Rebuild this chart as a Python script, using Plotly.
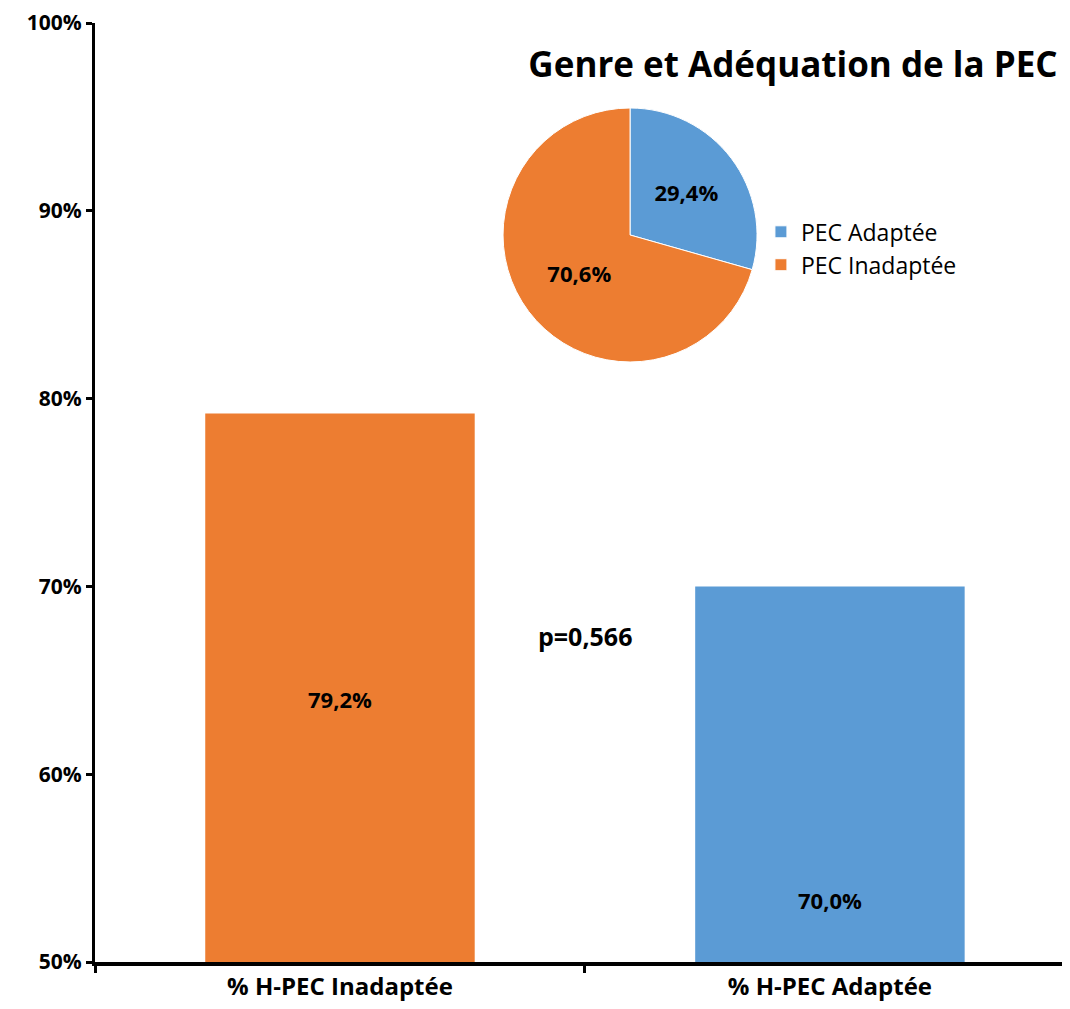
import plotly.graph_objects as go

categories = ["% H-PEC Inadaptée", "% H-PEC Adaptée"]
bar_values = [0.792, 0.700]
bar_labels = ["79,2%", "70,0%"]
bar_label_y = [0.64, 0.533]
bar_colors = ["#ED7D31", "#5B9BD5"]

pie_labels = ["PEC Adaptée", "PEC Inadaptée"]
pie_values = [29.4, 70.6]
pie_text = ["29,4%", "70,6%"]
pie_colors = ["#5B9BD5", "#ED7D31"]

y_tickvals = [0.5, 0.6, 0.7, 0.8, 0.9, 1.0]
y_ticktext = ["50%", "60%", "70%", "80%", "90%", "100%"]

title_text = "Genre et Adéquation de la PEC"
p_value_text = "p=0,566"

FONT = "Open Sans"

fig = go.Figure()

fig.add_trace(go.Bar(
    x=categories, y=bar_values, marker=dict(color=bar_colors, line=dict(width=0)),
    width=0.55, showlegend=False, hoverinfo="skip",
))

fig.add_trace(go.Pie(
    labels=pie_labels, values=pie_values, text=pie_text, textinfo="text",
    textposition="inside", insidetextorientation="horizontal",
    textfont=dict(family=FONT, size=22, color="black", weight="bold"),
    marker=dict(colors=pie_colors, line=dict(color="white", width=1)),
    sort=False, direction="clockwise", rotation=0,
    domain=dict(x=[0.4185, 0.679], y=[0.639, 0.9095]),
    showlegend=True,
))

for c, t, yy in zip(categories, bar_labels, bar_label_y):
    fig.add_annotation(x=c, y=yy, text=t, showarrow=False,
                       font=dict(family=FONT, size=22, color="black", weight="bold"))

fig.add_annotation(x=0.5, y=0.6735, xref="x", yref="y", text=p_value_text, showarrow=False,
                   font=dict(family=FONT, size=25, color="black", weight="bold"))

fig.update_layout(
    width=1062, height=1001,
    margin=dict(l=87, r=0, t=15, b=47, autoexpand=False),
    plot_bgcolor="white", paper_bgcolor="white",
    title=dict(text=title_text, x=(793-8)/1062, y=1-(65-8)/1001, xref="container", yref="container",
               xanchor="center", yanchor="middle",
               font=dict(family=FONT, size=35, color="black", weight="bold")),
    legend=dict(x=0.683, y=0.760, xanchor="left", yanchor="middle",
                font=dict(family=FONT, size=23, color="black"),
                bgcolor="rgba(0,0,0,0)", itemwidth=30),
    font=dict(family=FONT),
)

fig.update_xaxes(
    type="category", range=[-0.5, 1.49], showline=True, linecolor="black", linewidth=4,
    ticks="outside", tickson="boundaries", ticklen=7, tickwidth=3, tickcolor="black",
    showgrid=False, automargin=False,
    tickfont=dict(family=FONT, size=24, color="black", weight="bold"),
)
fig.update_yaxes(
    range=[0.5, 1.0], tickvals=y_tickvals, ticktext=y_ticktext,
    showline=True, linecolor="black", linewidth=3,
    ticks="outside", ticklen=6, tickwidth=3, tickcolor="black",
    showgrid=False, zeroline=False, ticklabeloverflow="allow", automargin=False,
    tickfont=dict(family=FONT, size=21, color="black", weight="bold"),
)

fig.write_html("out.html")
